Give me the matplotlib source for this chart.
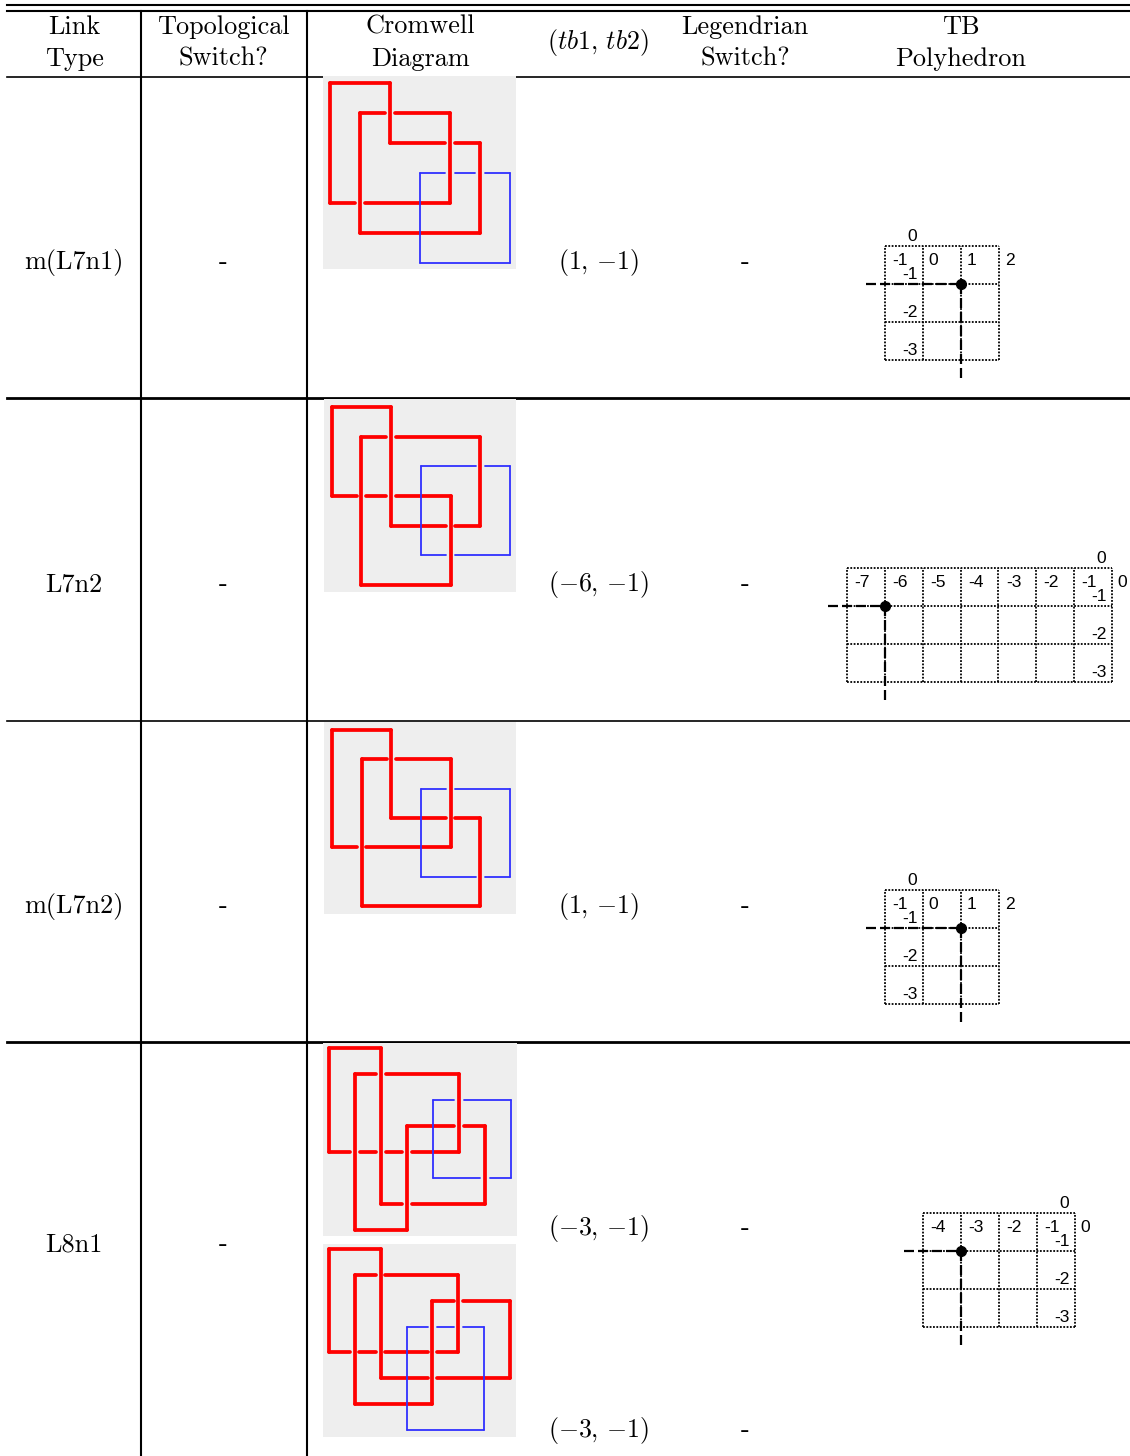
import matplotlib
matplotlib.use('Agg')
import matplotlib.pyplot as plt

plt.rcParams['mathtext.fontset'] = 'cm'

W, H = 1130, 1456
DPI = 100

headers = [('Link', 'Type'), ('Topological', 'Switch?'), ('Cromwell', 'Diagram'),
           (None, None), ('Legendrian', 'Switch?'), ('TB', 'Polyhedron')]
tb_header = r'$(tb1,\,tb2)$'

link_types = ['m(L7n1)', 'L7n2', 'm(L7n2)', 'L8n1']
topo_switch = ['-', '-', '-', '-']
tb_pairs = [r'$(1,\,{-}1)$', r'$({-}6,\,{-}1)$', r'$(1,\,{-}1)$', r'$({-}3,\,{-}1)$', r'$({-}3,\,{-}1)$']
leg_switch = ['-', '-', '-', '-', '-']

# cromwell diagrams, vertices as (column, row) on the grid
m_l7n1_red = [(0, 0), (2, 0), (2, 2), (5, 2), (5, 5), (1, 5), (1, 1), (4, 1), (4, 4), (0, 4)]
m_l7n1_blue = [(3, 3), (6, 3), (6, 6), (3, 6)]
l7n2_red = [(0, 0), (2, 0), (2, 4), (5, 4), (5, 1), (1, 1), (1, 6), (4, 6), (4, 3), (0, 3)]
l7n2_blue = [(3, 2), (6, 2), (6, 5), (3, 5)]
m_l7n2_red = [(0, 0), (2, 0), (2, 3), (5, 3), (5, 6), (1, 6), (1, 1), (4, 1), (4, 4), (0, 4)]
m_l7n2_blue = [(3, 2), (6, 2), (6, 5), (3, 5)]
l8n1a_red = [(0, 0), (2, 0), (2, 6), (6, 6), (6, 3), (3, 3), (3, 7), (1, 7), (1, 1), (5, 1), (5, 4), (0, 4)]
l8n1a_blue = [(4, 2), (7, 2), (7, 5), (4, 5)]
l8n1b_red = [(0, 0), (2, 0), (2, 5), (7, 5), (7, 2), (4, 2), (4, 6), (1, 6), (1, 1), (5, 1), (5, 4), (0, 4)]
l8n1b_blue = [(3, 3), (6, 3), (6, 7), (3, 7)]

# tb polyhedra: tb1 range, tb2 range, dot position
poly_tb1 = [(-1, 2), (-7, 0), (-1, 2), (-4, 0)]
poly_tb2 = [(-3, 0), (-3, 0), (-3, 0), (-3, 0)]
poly_dots = [(1, -1), (-6, -1), (1, -1), (-3, -1)]

# layout, in pixels of the picture, text y is the baseline
col_x = [74, 223, 420, 598, 745, 961]
row_y = [269, 591, 913, 1251]
tb_y = [269, 591, 913, 1235, 1437]
# box x0, y0, x1, y1, first grid line x, y, last grid line x, y
crom_boxes = [
    (323, 76, 516, 269, 330, 83, 510, 263),
    (324, 399, 516, 592, 331.5, 407, 510, 585),
    (324, 722, 516, 914, 332, 730, 510, 906),
    (323, 1043, 517, 1236, 329, 1048, 511, 1230),
    (323, 1244, 516, 1437, 329, 1249, 510, 1430),
]
crom_data = [
    (m_l7n1_red, m_l7n1_blue),
    (l7n2_red, l7n2_blue),
    (m_l7n2_red, m_l7n2_blue),
    (l8n1a_red, l8n1a_blue),
    (l8n1b_red, l8n1b_blue),
]
# grid left, top, right, bottom
poly_boxes = [
    (885, 246, 999, 360),
    (847, 568, 1112, 682),
    (885, 890, 999, 1004),
    (923, 1213, 1075, 1327),
]

fig = plt.figure(figsize=(W / DPI, H / DPI), dpi=DPI)
ax = fig.add_axes([0, 0, 1, 1])
ax.set_xlim(0, W)
ax.set_ylim(H, 0)
ax.axis('off')


def tex(x, y, s, size=18.9):
    ax.text(x, y, s, ha='center', va='baseline', fontsize=size, family='cmr10', color='black')


def inset(x0, y0, x1, y1):
    a = fig.add_axes([x0 / W, 1 - y1 / H, (x1 - x0) / W, (y1 - y0) / H])
    return a


def edges(pts):
    closed = pts + pts[:1]
    return list(zip(closed, closed[1:]))


def draw_strand(a, pts, over_cols, gap, color, lw):
    # in a cromwell diagram the verticals always pass over the horizontals
    for p, q in edges(pts):
        if p[1] != q[1]:
            a.plot([p[0], q[0]], [p[1], q[1]], color=color, lw=lw, solid_capstyle='round',
                   clip_on=False)
            continue
        lo, hi = min(p[0], q[0]), max(p[0], q[0])
        stops = sorted(c for c, r0, r1 in over_cols if lo < c < hi and min(r0, r1) < p[1] < max(r0, r1))
        start = lo
        for c in stops:
            a.plot([start, c - gap], [p[1], p[1]], color=color, lw=lw, solid_capstyle='round',
                   clip_on=False)
            start = c + gap
        a.plot([start, hi], [p[1], p[1]], color=color, lw=lw, solid_capstyle='round', clip_on=False)


def draw_cromwell(box, red, blue):
    x0, y0, x1, y1, gx0, gy0, gx1, gy1 = box
    n_col = max(p[0] for p in red + blue)
    n_row = max(p[1] for p in red + blue)
    px = (gx1 - gx0) / n_col
    py = (gy1 - gy0) / n_row
    a = inset(x0, y0, x1, y1)
    a.set_xlim((x0 - gx0) / px, (x1 - gx0) / px)
    a.set_ylim((y1 - gy0) / py, (y0 - gy0) / py)
    a.set_xticks([])
    a.set_yticks([])
    a.set_facecolor('#eeeeee')
    for s in a.spines.values():
        s.set_visible(False)
    over_cols = [(p[0], p[1], q[1]) for p, q in edges(red) if p[0] == q[0]]
    draw_strand(a, red, over_cols, 4.6 / px, '#ff0000', 2.7)
    draw_strand(a, blue, over_cols, 4.6 / px, '#3030ff', 1.3)


def draw_poly(box, tb1, tb2, dot):
    left, top, right, bottom = box
    a = inset(left, top, right, bottom)
    a.set_xlim(tb1[0], tb1[1])
    a.set_ylim(tb2[0], tb2[1])
    a.axis('off')
    dotted = dict(color='black', lw=1.3, ls=(0, (1, 0.85)), clip_on=False)
    for k in range(tb1[0], tb1[1] + 1):
        a.plot([k, k], tb2, **dotted)
    for k in range(tb2[0], tb2[1] + 1):
        a.plot(tb1, [k, k], **dotted)
    dashed = dict(color='black', lw=1.6, ls=(0, (4.5, 1.8)), clip_on=False)
    a.plot([tb1[0] - 0.5, dot[0]], [dot[1], dot[1]], **dashed)
    a.plot([dot[0], dot[0]], [dot[1], tb2[0] - 0.5], **dashed)
    a.plot([dot[0]], [dot[1]], 'o', color='black', ms=7, clip_on=False)
    lab = dict(family='Liberation Sans', fontsize=12.6, va='center', color='black')
    for k in range(tb1[0], tb1[1] + 1):
        off = 0.28 if k >= 0 else 0.4
        a.text(k + off, tb2[1] - 0.37, str(k), ha='center', clip_on=False, **lab)
    for k in range(tb2[0], tb2[1]):
        a.text(0 - 0.15, k + 0.25, str(k), ha='right', clip_on=False, **lab)
    a.text(-0.29, tb2[1] + 0.26, '0', ha='center', clip_on=False, **lab)


# table rules
ax.plot([7, W], [5, 5], color='black', lw=1.5)
ax.plot([7, W], [11, 11], color='black', lw=1.5)
ax.plot([7, W], [76.5, 76.5], color='black', lw=1.2)
ax.plot([7, W], [398, 398], color='black', lw=2.0)
ax.plot([7, W], [720.5, 720.5], color='black', lw=1.2)
ax.plot([7, W], [1042, 1042], color='black', lw=2.0)
ax.plot([141, 141], [11, H], color='black', lw=1.5)
ax.plot([307, 307], [11, H], color='black', lw=1.5)

for x, (top, bottom) in zip(col_x, headers):
    if top is not None:
        tex(x, 34, top)
        tex(x, 66, bottom)
tex(col_x[3], 49, tb_header, 18.6)

for y, link, topo in zip(row_y, link_types, topo_switch):
    tex(col_x[0], y, link)
    tex(col_x[1], y, topo)

for y, pair, leg in zip(tb_y, tb_pairs, leg_switch):
    tex(col_x[3], y, pair, 18.6)
    tex(col_x[4], y, leg)

for box, (red, blue) in zip(crom_boxes, crom_data):
    draw_cromwell(box, red, blue)

for box, tb1, tb2, dot in zip(poly_boxes, poly_tb1, poly_tb2, poly_dots):
    draw_poly(box, tb1, tb2, dot)

fig.savefig('out.png', dpi=DPI)
